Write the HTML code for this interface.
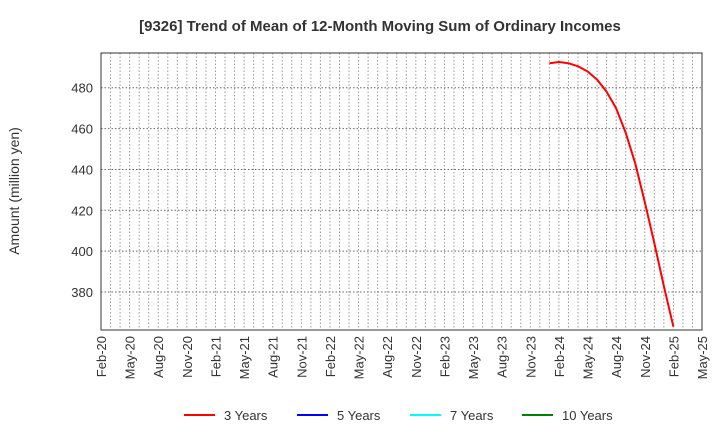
<!DOCTYPE html>
<html><head><meta charset="utf-8"><style>
body{margin:0;background:#fff;font-family:"Liberation Sans",sans-serif;}
</style></head><body>
<svg id="chart" width="720" height="440" xmlns="http://www.w3.org/2000/svg">
<text x="380" y="31" text-anchor="middle" font-size="15" font-weight="bold" fill="#333">[9326]  Trend of Mean of 12-Month Moving Sum of Ordinary Incomes</text>
<text transform="translate(19,191) rotate(-90)" text-anchor="middle" font-size="14" fill="#333">Amount (million yen)</text>
<g id="grid"></g><g id="ticks"></g><g id="series"></g>
<rect x="101" y="53" width="601" height="277" fill="none" stroke="#333" stroke-width="1"/>
<g id="legend"></g>
</svg>
<script>
const yTicks=[380,400,420,440,460,480];
const xLabels=["Feb-20","May-20","Aug-20","Nov-20","Feb-21","May-21","Aug-21","Nov-21","Feb-22","May-22","Aug-22","Nov-22","Feb-23","May-23","Aug-23","Nov-23","Feb-24","May-24","Aug-24","Nov-24","Feb-25","May-25"];
const seriesStartMonth=47;
const values3y=[492,492.6,492,490.5,488,484,478,470,458,443,424,404,383,363];
const legendNames=["3 Years","5 Years","7 Years","10 Years"];
const legendColors=["#ff0000","#0000ff","#00ffff","#008000"];
const NS="http://www.w3.org/2000/svg";
const L=101,R=702,T=53,B=330,months=63,yMin=361.4,yMax=497;
const xs=m=>L+(R-L)*m/months;
const ys=v=>B-(B-T)*(v-yMin)/(yMax-yMin);
function mk(tag,attrs,parent){const e=document.createElementNS(NS,tag);for(const k in attrs)e.setAttribute(k,attrs[k]);document.getElementById(parent).appendChild(e);return e;}
for(let m=1;m<months;m++){
 const l=mk('line',{x1:xs(m),x2:xs(m),y1:T,y2:B,stroke:'#999','stroke-dasharray':'1.5,2','stroke-width':1},'grid');
 
 
}
yTicks.forEach(v=>{
 const l=mk('line',{x1:L,x2:R,y1:ys(v),y2:ys(v),stroke:'#666','stroke-dasharray':'1.5,2','stroke-width':1},'grid');
 
 
 const t=mk('text',{x:L-8,y:ys(v)+5,'text-anchor':'end','font-size':13,fill:'#333'},'ticks');
 t.textContent=v;
 
 
});
xLabels.forEach((s,i)=>{
 const x=xs(i*3);
 const t=mk('text',{transform:`translate(${x+5},336) rotate(-90)`,'text-anchor':'end','font-size':13,fill:'#333'},'ticks');
 t.textContent=s;
 
 
});
const pts=values3y.map((v,i)=>xs(seriesStartMonth+i).toFixed(1)+','+ys(v).toFixed(1)).join(' ');
const pl=mk('polyline',{points:pts,fill:'none',stroke:'#ff0000','stroke-width':2,'stroke-linejoin':'round'},'series');


const lx=[184,297,410,522];
legendNames.forEach((n,i)=>{
 const l=mk('line',{x1:lx[i],x2:lx[i]+31,y1:415,y2:415,stroke:legendColors[i],'stroke-width':2},'legend');
 
 
 const t=mk('text',{x:lx[i]+40,y:420,'font-size':13,fill:'#333'},'legend');
 t.textContent=n;
 
 
});
</script>
</body></html>
